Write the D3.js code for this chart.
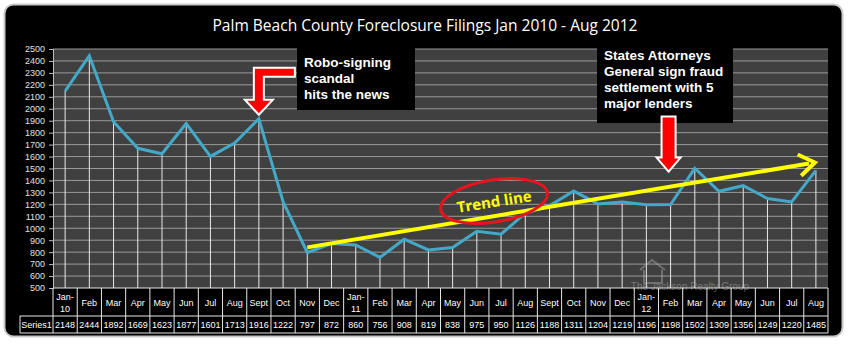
<!DOCTYPE html>
<html>
<head>
<meta charset="utf-8">
<script src="https://cdn.jsdelivr.net/npm/d3@7"></script>
<style>
  body { margin: 0; background: #fff; }
  svg { display: block; }
  text { font-family: "Liberation Sans", Arial, sans-serif; }
</style>
</head>
<body>
<svg id="chart" width="850" height="347"></svg>
<script>
// data
const months = ["Jan-10","Feb","Mar","Apr","May","Jun","Jul","Aug","Sept","Oct","Nov","Dec",
                "Jan-11","Feb","Mar","Apr","May","Jun","Jul","Aug","Sept","Oct","Nov","Dec",
                "Jan-12","Feb","Mar","Apr","May","Jun","Jul","Aug"];
const filings = [2148,2444,1892,1669,1623,1877,1601,1713,1916,1222,797,872,
                 860,756,908,819,838,975,950,1126,1188,1311,1204,1219,
                 1196,1198,1502,1309,1356,1249,1220,1485];
const yTicks = d3.range(500, 2501, 100);
const seriesName = "Series1";
// trend line drawn by hand on the original: [month index, value]
const trend = [[10, 840], [31.5, 1550]];
const roboText = ["Robo-signing", "scandal", "hits the news"];
const sagText = ["States Attorneys", "General sign fraud", "settlement with 5", "major lenders"];

const svg = d3.select("#chart");
const plotL = 53, plotR = 828, plotT = 49, plotB = 288;

const x = d3.scaleBand().domain(d3.range(months.length)).range([plotL, plotR]);
const y = d3.scaleLinear().domain([500, 2500]).range([plotB, plotT]);
const cx = (i) => x(Math.floor(i)) + x.bandwidth() * (i - Math.floor(i)) + (Number.isInteger(i) ? x.bandwidth() / 2 : 0);

// black panel
svg.append("rect").attr("x", 4.5).attr("y", 4.5).attr("width", 838).attr("height", 332)
  .attr("rx", 9).attr("fill", "#000").attr("stroke", "#c8c8c8").attr("stroke-width", 2);

svg.append("text").attr("x", 425).attr("y", 31).attr("text-anchor", "middle")
  .attr("fill", "#fff").style("font-family", "'Open Sans', sans-serif").style("font-size", "16px")
  .attr("textLength", 425).attr("lengthAdjust", "spacingAndGlyphs")
  .text("Palm Beach County Foreclosure Filings Jan 2010 - Aug 2012");

// plot area
svg.append("rect").attr("x", plotL).attr("y", plotT).attr("width", plotR - plotL).attr("height", plotB - plotT)
  .attr("fill", "#404040");

svg.append("g").selectAll("line").data(yTicks.slice(1)).join("line")
  .attr("x1", plotL).attr("x2", plotR).attr("y1", d => y(d)).attr("y2", d => y(d))
  .attr("stroke", "#999").attr("stroke-width", 1);

const yAxis = svg.append("g").attr("transform", `translate(${plotL},0)`)
  .call(d3.axisLeft(y).tickValues(yTicks).tickFormat(d3.format("d")).tickSize(4).tickPadding(4));
yAxis.select(".domain").attr("stroke", "#bfbfbf");
yAxis.selectAll(".tick line").attr("stroke", "#bfbfbf");
yAxis.selectAll("text").attr("fill", "#e0e0e0").style("font-size", "9px");

// drop lines
svg.append("g").selectAll("line").data(filings).join("line")
  .attr("x1", (d, i) => cx(i)).attr("x2", (d, i) => cx(i))
  .attr("y1", d => y(d)).attr("y2", plotB)
  .attr("stroke", "#e8e8e8").attr("stroke-width", 1);

svg.append("path").datum(filings)
  .attr("d", d3.line().x((d, i) => cx(i)).y(d => y(d)))
  .attr("fill", "none").attr("stroke", "#43a9c8").attr("stroke-width", 3).attr("stroke-linejoin", "miter");

// watermark
const wm = svg.append("g").attr("opacity", 0.45);
wm.append("path").attr("d", "M640,270 L652,260 L665,270 M644,270 L644,283 L662,283 L662,270")
  .attr("fill", "none").attr("stroke", "#aaa").attr("stroke-width", 2);
wm.append("text").attr("x", 690).attr("y", 290).attr("text-anchor", "middle")
  .attr("fill", "#bbb").style("font-size", "10px").text("The Jackson Realty Group");

// data table
const rowTop = plotB, rowMid = 316, rowBot = 333, tableLeft = 20;
const tbl = svg.append("g").attr("stroke", "#e6e6e6").attr("stroke-width", 1);
tbl.append("line").attr("x1", plotL).attr("x2", plotR).attr("y1", rowTop).attr("y2", rowTop);
tbl.append("line").attr("x1", tableLeft).attr("x2", plotR).attr("y1", rowMid).attr("y2", rowMid);
tbl.append("line").attr("x1", tableLeft).attr("x2", plotR).attr("y1", rowBot).attr("y2", rowBot);
tbl.append("line").attr("x1", tableLeft).attr("x2", tableLeft).attr("y1", rowMid).attr("y2", rowBot);
tbl.selectAll(".col").data(d3.range(months.length + 1)).join("line")
  .attr("x1", i => plotL + i * x.bandwidth()).attr("x2", i => plotL + i * x.bandwidth())
  .attr("y1", rowTop).attr("y2", rowBot);

const lab = svg.append("g").attr("fill", "#fff").style("font-size", "9px").attr("text-anchor", "middle");
months.forEach((m, i) => {
  const parts = m.split("-");
  if (parts.length === 2) {
    lab.append("text").attr("x", cx(i)).attr("y", 300).text(parts[0] + "-");
    lab.append("text").attr("x", cx(i)).attr("y", 312).text(parts[1]);
  } else {
    lab.append("text").attr("x", cx(i)).attr("y", 306).text(m);
  }
  lab.append("text").attr("x", cx(i)).attr("y", 328).text(filings[i]);
});
lab.append("text").attr("x", (tableLeft + plotL) / 2).attr("y", 328).text(seriesName);

// trend line with arrow
const tx1 = cx(trend[0][0]), ty1 = y(trend[0][1]), tx2 = cx(trend[1][0]) - 1, ty2 = y(trend[1][1]);
const ang = Math.atan2(ty2 - ty1, tx2 - tx1);
svg.append("line").attr("x1", tx1).attr("y1", ty1)
  .attr("x2", tx2 - 6 * Math.cos(ang)).attr("y2", ty2 - 6 * Math.sin(ang))
  .attr("stroke", "#ffff00").attr("stroke-width", 4);
const head = (a) => [tx2 - 19 * Math.cos(ang + a), ty2 - 19 * Math.sin(ang + a)];
svg.append("path").attr("d", `M${head(0.6)} L${tx2},${ty2} L${head(-0.6)}`)
  .attr("fill", "none").attr("stroke", "#ffff00").attr("stroke-width", 4).attr("stroke-linejoin", "miter");

// "Trend line" label with red ellipse
const lbl = svg.append("g").attr("transform", "translate(494,201) rotate(-9)");
lbl.append("ellipse").attr("rx", 54).attr("ry", 21).attr("fill", "none")
  .attr("stroke", "#e8141c").attr("stroke-width", 3);
lbl.append("text").attr("y", 6).attr("text-anchor", "middle").attr("fill", "#ffff00")
  .style("font-family", "'Open Sans', sans-serif").style("font-weight", "bold").style("font-size", "15px")
  .text("Trend line");

// annotation boxes
const note = (bx, by, bw, bh, lines, tx, ty0, dy) => {
  svg.append("rect").attr("x", bx).attr("y", by).attr("width", bw).attr("height", bh).attr("fill", "#000");
  svg.append("g").attr("fill", "#fff").style("font-weight", "bold").style("font-size", "13.5px")
    .selectAll("text").data(lines).join("text")
    .attr("x", tx).attr("y", (d, i) => ty0 + i * dy).text(d => d);
};
note(297, 47, 118, 63, roboText, 304, 67, 16);
note(597, 40, 136, 83, sagText, 604, 60, 16);

// red arrows
const arrowStyle = (p) => p.attr("fill", "#ff0000").attr("stroke", "#fff").attr("stroke-width", 2).attr("stroke-linejoin", "miter");
const rx = cx(8), ry = y(1916) - 4;
svg.append("path").call(arrowStyle).attr("d",
  `M${rx},${ry} L${rx - 14},${ry - 15} L${rx - 5},${ry - 15} L${rx - 5},${ry - 47} L${rx + 36},${ry - 47} ` +
  `L${rx + 36},${ry - 38} L${rx + 5},${ry - 38} L${rx + 5},${ry - 15} L${rx + 14},${ry - 15} Z`);
const sx = cx(25) - 2, sy = y(1198) - 33;
svg.append("path").call(arrowStyle).attr("d",
  `M${sx},${sy} L${sx - 12},${sy - 14} L${sx - 7},${sy - 14} L${sx - 7},${sy - 55} L${sx + 7},${sy - 55} ` +
  `L${sx + 7},${sy - 14} L${sx + 12},${sy - 14} Z`);
</script>
</body>
</html>
